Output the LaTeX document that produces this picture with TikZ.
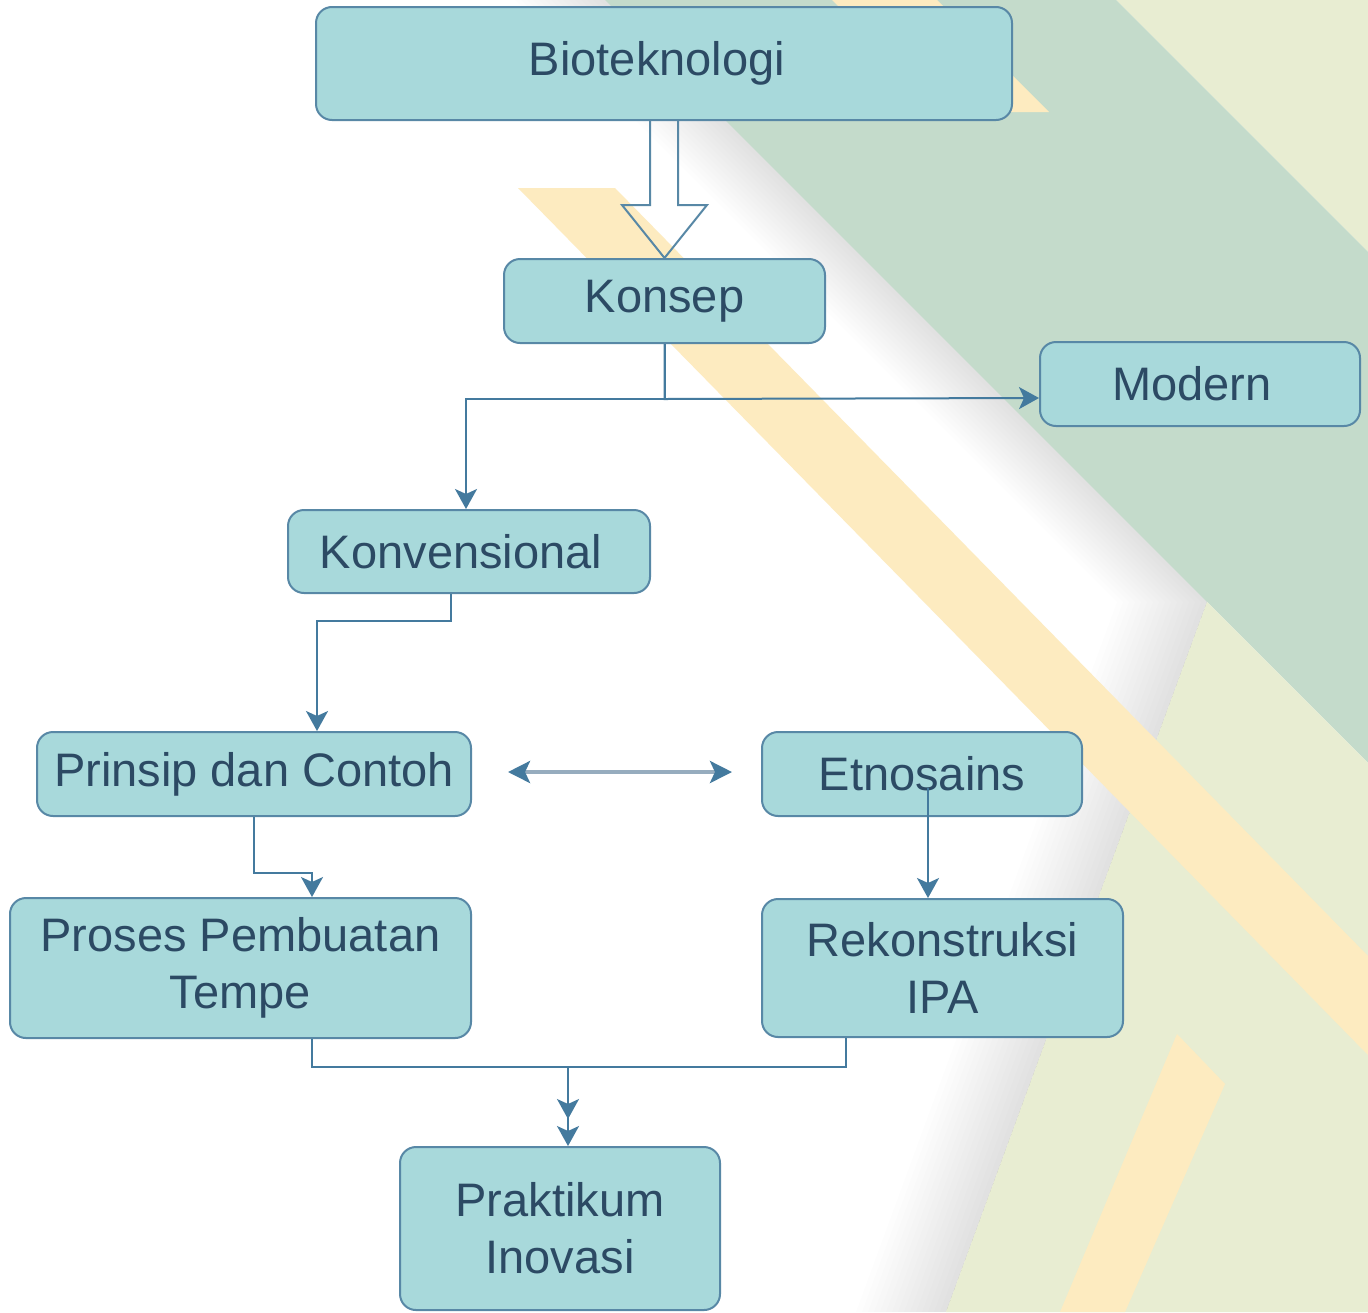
\documentclass[tikz,border=0pt]{standalone}
\usepackage{fontspec}
\setmainfont{Liberation Sans}
\usetikzlibrary{arrows.meta,calc}
\definecolor{boxfill}{RGB}{168,217,219}
\definecolor{boxline}{RGB}{88,136,166}
\definecolor{txt}{RGB}{44,74,100}
\definecolor{conn}{RGB}{68,122,158}
\definecolor{bandgreen}{RGB}{196,219,203}
\definecolor{pale}{RGB}{232,237,210}
\definecolor{sand}{RGB}{253,235,192}
\definecolor{biline}{RGB}{150,172,190}
\begin{document}
\begin{tikzpicture}[x=0.5pt,y=-0.5pt,
  box/.style={draw=boxline, line width=1pt, fill=boxfill, rounded corners=8pt,
    text=txt, font=\fontsize{23.5pt}{28.5pt}\selectfont, align=center, inner sep=0pt},
  arr/.style={draw=conn, line width=1pt, -{Stealth[length=10pt,width=11pt,inset=2.5pt,color=conn]}},
  biarr/.style={draw=biline, line width=2pt,
    {Stealth[length=11pt,width=11pt,inset=2.5pt,color=conn]}-{Stealth[length=11pt,width=11pt,inset=2.5pt,color=conn]}},
  hollow/.style={draw=boxline, line width=1pt, line join=miter}]
\useasboundingbox (0,0) rectangle (1368,1312);
% ---------- background ----------
\begin{scope}
\clip (0,0) rectangle (1368,1312);
\fill[white] (0,0) rectangle (1368,1312);
\fill[pale] (1116,0) -- (1368,0) -- (1368,252) -- cycle;
\fill[bandgreen] (605,0) -- (1116,0) -- (1368,252) -- (1368,763) -- cycle;
\fill[pale] (1207,602) -- (1368,763) -- (1368,1312) -- (946,1312) -- cycle;
\foreach \d in {6,12,...,90} {
  \fill[black,opacity=0.006] (605-\d,0) -- (605,0) -- (1207,602) -- (946,1312)
    -- (946-\d,1312) -- (1207-\d,602) -- cycle;
}
\fill[sand] (832,0) -- (937,0) -- (1049,112) -- (944,112) -- cycle;
\fill[sand] (518,188) -- (615,188) -- (1368,956) -- (1368,1055) -- cycle;
\fill[sand] (1177,1034) -- (1225,1084) -- (1125,1312) -- (1060,1312) -- cycle;
\end{scope}
% ---------- nodes ----------
\node[box, minimum width=348pt, minimum height=56.5pt] (bio) at (664,63.5) {\hspace*{-7pt}Bioteknologi};
\node[box, minimum width=160.5pt, minimum height=42pt] (konsep) at (664.5,301) {Konsep};
\node[box, minimum width=160pt, minimum height=42pt] (modern) at (1200,384) {\hspace*{-8pt}Modern};
\node[box, minimum width=181pt, minimum height=41.5pt] (konv) at (469,551.5) {\hspace*{-8pt}Konvensional};
\node[box, minimum width=217pt, minimum height=42pt] (prinsip) at (254,774) {Prinsip dan Contoh};
\node[box, minimum width=160pt, minimum height=42pt] (etno) at (922,774) {Etnosains};
\node[box, minimum width=230.5pt, minimum height=70pt] (proses) at (240.5,968) {Proses Pembuatan\\Tempe};
\node[box, minimum width=180.5pt, minimum height=69pt] (rekon) at (942.5,968) {Rekonstruksi\\IPA};
\node[box, minimum width=160pt, minimum height=81.5pt] (prak) at (560,1228.5) {Praktikum\\Inovasi};
% ---------- connectors ----------
\draw[hollow] ($(bio.south)+(-14,0)$) -- ($(konsep.north)+(-14.5,-53)$)
  -- ($(konsep.north)+(-42.5,-53)$) -- (konsep.north) -- ($(konsep.north)+(42.5,-53)$)
  -- ($(konsep.north)+(13.5,-53)$) -- ($(bio.south)+(14,0)$);
\draw[arr] (konsep.south) -- ++(0,55) -| ($(konv.north)+(-3,0)$);
\draw[arr] (konsep.south) -- ++(0,55) -- ($(modern.west)+(0,14)$);
\draw[arr] ($(konv.south)+(-18,0)$) -- ++(0,27) -| ($(prinsip.north)+(63,0)$);
\draw[arr] (prinsip.south) -- ++(0,56) -| ($(proses.north)+(71.5,0)$);
\draw[biarr] ($(prinsip.east)+(36,-2)$) -- ($(etno.west)+(-29,-2)$);
\draw[arr] ($(etno.center)+(6,14)$) -- ($(rekon.north)+(-14.5,0)$);
\draw[arr] ($(proses.south)+(71.5,0)$) -- ++(0,28) -| ($(prak.north)+(8,0)$);
\draw[arr, shorten >=13.5pt] ($(rekon.south)+(-96.5,0)$) -- ++(0,29) -| ($(prak.north)+(8,0)$);
\end{tikzpicture}
\end{document}
